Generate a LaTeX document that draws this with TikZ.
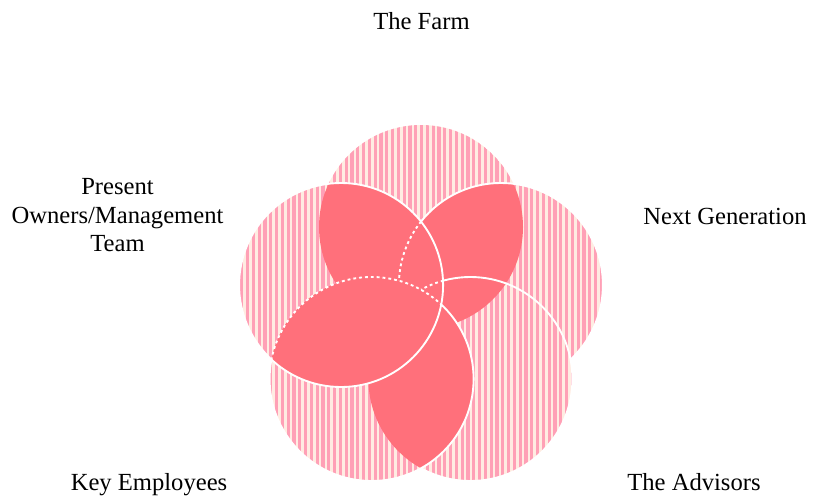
\documentclass[tikz,border=0pt]{standalone}
\usepackage{fontspec}
\setmainfont{Liberation Serif}
\definecolor{stripepink}{RGB}{255,160,182}
\definecolor{petalred}{RGB}{255,112,123}
\definecolor{palepink}{RGB}{255,236,226}

% one full layer of the flower: pale ground, stripes, solid overlaps
\newcommand{\flowerlayer}{%
  \begin{scope}
    \clip (farm) circle (102) (nextgen) circle (102) (advisors) circle (102)
      (keyemp) circle (102) (owners) circle (102);
    \fill [palepink] (230,-110) rectangle (615,-495);
    \foreach \x in {236,241.8,...,608}
      \draw [stripepink, line width=2.8pt] (\x,-115) -- (\x,-492);
  \end{scope}
  \begin{scope}
    \clip (farm) circle (102);
    \fill [petalred] (owners) circle (102) (nextgen) circle (102) (advisors) circle (102);
  \end{scope}
  \begin{scope}
    \clip (keyemp) circle (102);
    \fill [petalred] (owners) circle (102) (nextgen) circle (102) (advisors) circle (102);
  \end{scope}%
}

\begin{document}
\begin{tikzpicture}[x=0.03cm, y=0.03cm]
\tikzstyle{every node}+=[inner sep=0pt, font=\fontsize{21}{24.3}\selectfont]
\tikzstyle{rim}=[white, line width=1.6pt]
\tikzstyle{seam}=[white, line width=1.6pt, dash pattern=on 2.4pt off 2.6pt]
\useasboundingbox (0,0) rectangle (813,-498);
\coordinate (farm) at (421,-227);
\coordinate (nextgen) at (500.9,-285);
\coordinate (advisors) at (470.4,-379);
\coordinate (keyemp) at (371.6,-379);
\coordinate (owners) at (341.1,-285);
\flowerlayer
\draw [rim] (nextgen) circle (102);
\begin{scope}
\clip (advisors) circle (102);
\flowerlayer
\end{scope}
\draw [rim] (advisors) circle (102);
\begin{scope}
\clip (keyemp) circle (102);
\flowerlayer
\end{scope}
\draw [rim] (keyemp) circle (102);
\begin{scope}
\clip (owners) circle (102);
\flowerlayer
\draw [seam] (nextgen) circle (102) (advisors) circle (102);
\clip (keyemp) circle (102);
\flowerlayer
\end{scope}
\begin{scope}
\clip (owners) circle (102);
\draw [seam] (keyemp) circle (102);
\end{scope}
\draw [rim] (owners) circle (102);
\node (farmlabel) [anchor=base] at (421.5,-29) {The Farm};
\node (nextlabel) [anchor=base] at (725,-224) {Next Generation};
\node (ownerlabel) [anchor=base, align=center] at (117.5,-251.5) {Present\\Owners/Management\\Team};
\node (keylabel) [anchor=base] at (149,-490) {Key Employees};
\node (advlabel) [anchor=base] at (694,-490) {The Advisors};
\end{tikzpicture}
\end{document}
